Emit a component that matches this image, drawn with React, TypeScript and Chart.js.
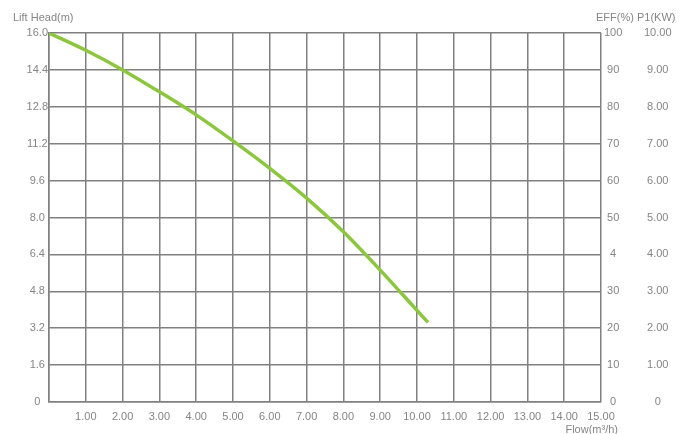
import React, { useEffect, useRef } from "react";
import { Chart, registerables } from "chart.js";

Chart.register(...registerables);

const flowValues = [0, 1, 2, 3, 4, 5, 6, 7, 8, 9, 10, 10.3];
const headValues = [16.0, 15.25, 14.4, 13.45, 12.45, 11.32, 10.13, 8.84, 7.38, 5.72, 3.97, 3.45];
const headTicks = ["0", "1.6", "3.2", "4.8", "6.4", "8.0", "9.6", "11.2", "12.8", "14.4", "16.0"];
const effTicks = ["0", "10", "20", "30", "4", "50", "60", "70", "80", "90", "100"];
const powerTicks = ["0", "1.00", "2.00", "3.00", "4.00", "5.00", "6.00", "7.00", "8.00", "9.00", "10.00"];

const FONT = { family: "'Liberation Sans', Arial, sans-serif", size: 11 };
const TEXT = "#858585";
const GRID = "#808080";

const titlesPlugin = {
  id: "titles",
  afterDraw(chart: any) {
    const ctx = chart.ctx;
    ctx.save();
    ctx.font = `11px ${FONT.family}`;
    ctx.fillStyle = TEXT;
    ctx.textBaseline = "middle";
    ctx.textAlign = "left";
    ctx.fillText("Lift Head(m)", 13, 18);
    ctx.fillText("EFF(%) P1(KW)", 596, 18);
    ctx.textAlign = "right";
    ctx.fillText("Flow(m³/h)", 618, 430);
    ctx.restore();
  },
};

export default function App() {
  const ref = useRef<HTMLCanvasElement>(null);
  useEffect(() => {
    const tickSet = (n: number, step: number) => (scale: any) => {
      scale.ticks = Array.from({ length: n + 1 }, (_, i) => ({ value: +(i * step).toFixed(4) }));
    };
    const chart = new Chart(ref.current!, {
      type: "line",
      data: {
        datasets: [
          {
            data: flowValues.map((x, i) => ({ x, y: headValues[i] })),
            borderColor: "#8cc63f",
            borderWidth: 3.5,
            pointRadius: 0,
            tension: 0.3,
            fill: false,
            yAxisID: "y",
          },
        ],
      },
      options: {
        animation: false,
        responsive: false,
        maintainAspectRatio: false,
        layout: { padding: { top: 33, right: 0, left: 0, bottom: 0 } },
        plugins: { legend: { display: false }, tooltip: { enabled: false } },
        scales: {
          x: {
            type: "linear",
            min: 0,
            max: 15,
            afterBuildTicks: tickSet(15, 1),
            afterFit: (s: any) => { s.height = 32; },
            grid: { color: GRID, lineWidth: 1.5, drawTicks: false },
            border: { color: GRID, width: 1.5 },
            ticks: {
              font: FONT,
              color: TEXT,
              padding: 8,
              maxRotation: 0,
              autoSkip: false,
              callback: (v: any) => (v === 0 ? "" : Number(v).toFixed(2)),
            },
          },
          y: {
            type: "linear",
            position: "left",
            min: 0,
            max: 16,
            afterBuildTicks: tickSet(10, 1.6),
            afterFit: (s: any) => { s.width = 49; },
            grid: { color: GRID, lineWidth: 1.5, drawTicks: false },
            border: { color: GRID, width: 1.5 },
            ticks: {
              font: FONT,
              color: TEXT,
              padding: 1,
              crossAlign: "center",
              autoSkip: false,
              callback: (_v: any, i: number) => headTicks[i],
            },
          },
          y2: {
            type: "linear",
            position: "right",
            min: 0,
            max: 100,
            afterBuildTicks: tickSet(10, 10),
            afterFit: (s: any) => { s.width = 42; },
            grid: { display: false, drawTicks: false },
            border: { display: false },
            ticks: {
              font: FONT,
              color: TEXT,
              padding: 3,
              crossAlign: "center",
              autoSkip: false,
              callback: (_v: any, i: number) => effTicks[i],
            },
          },
          y3: {
            type: "linear",
            position: "right",
            min: 0,
            max: 10,
            afterBuildTicks: tickSet(10, 1),
            afterFit: (s: any) => { s.width = 48; },
            grid: { display: false, drawTicks: false },
            border: { display: false },
            ticks: {
              font: FONT,
              color: TEXT,
              padding: 1,
              crossAlign: "center",
              autoSkip: false,
              callback: (_v: any, i: number) => powerTicks[i],
            },
          },
        },
      },
      plugins: [titlesPlugin],
    } as any);
    return () => chart.destroy();
  }, []);
  return (
    <div style={{ position: "absolute", left: 0, top: 0, width: 691, height: 434, background: "#fff" }}>
      <canvas ref={ref} width={691} height={434} style={{ width: 691, height: 434 }} />
    </div>
  );
}
